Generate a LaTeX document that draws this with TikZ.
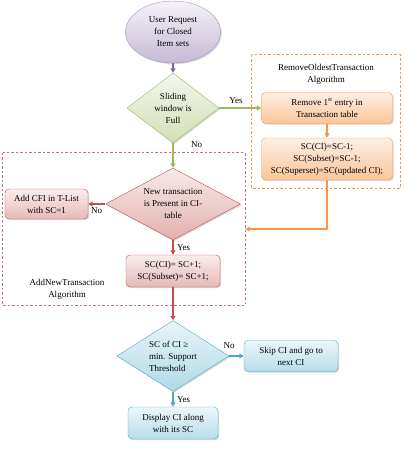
\documentclass[tikz,border=0pt]{standalone}
\usepackage{fontspec}
\setmainfont{Liberation Serif}
\usetikzlibrary{shapes.geometric,arrows.meta,shadows}

\definecolor{purpline}{HTML}{8064A2}
\definecolor{grnline}{HTML}{9BBB59}
\definecolor{orgline}{HTML}{F79646}
\definecolor{redline}{HTML}{C0504D}
\definecolor{bluline}{HTML}{4BACC6}
\definecolor{grpred}{HTML}{D9668A}

\begin{document}
\begin{tikzpicture}[x=1pt, y=-1pt, font=\fontsize{9}{12}\selectfont, line join=round,
	shd/.style={drop shadow={opacity=.3, shadow xshift=1.2pt, shadow yshift=-1.2pt}},
	box/.style={rectangle, rounded corners=4pt, draw, align=center, inner sep=1pt, shd},
	dec/.style={diamond, draw, align=center, inner sep=0pt, shd},
	conn/.style={line width=1.4pt, -{Triangle[length=4.5pt,width=5pt]}},
	lbl/.style={text=black},
	grp/.style={dash pattern=on 2.5pt off 2pt, line width=.8pt}]
	\useasboundingbox (0,0) rectangle (404,450);
	% dashed groups
	\node[minimum width=148pt, minimum height=133pt] (rmalg) at (326,121.5) {};
	\node[minimum width=242pt, minimum height=152pt] (addalg) at (124,229) {};
	\draw[grp, orgline] (rmalg.north west) rectangle (rmalg.south east);
	\draw[grp, grpred] (addalg.north west) rectangle (addalg.south east);
	\node[align=center] (rmlbl) at (326,74) {RemoveOldestTransaction\\Algorithm};
	\node[align=center] (addlbl) at (67,289) {AddNewTransaction\\Algorithm};
	% flow
	\node[ellipse, draw=purpline!70, top color=purpline!8, bottom color=purpline!45, align=center, minimum width=95pt, minimum height=62pt, inner sep=0pt, shd] (req) at (173,32) {User Request\\for Closed\\Item sets};
	\node[dec, draw=grnline, top color=grnline!12, bottom color=grnline!45, aspect=1.3, minimum width=92pt, minimum height=70pt] (win) at (173,108) {Sliding\\window is\\Full};
	\node[box, draw=orgline, top color=orgline!15, bottom color=orgline!55, minimum width=131pt, minimum height=31pt] (rm1) at (327,108) {Remove 1\textsuperscript{st} entry in\\Transaction table};
	\node[box, draw=orgline, top color=orgline!15, bottom color=orgline!55, minimum width=131pt, minimum height=42pt] (rm2) at (327,159) {SC(CI)=SC-1;\\SC(Subset)=SC-1;\\SC(Superset)=SC(updated CI);};
	\node[dec, draw=redline, top color=redline!12, bottom color=redline!45, aspect=1.85, minimum width=135pt, minimum height=72pt] (new) at (173,204) {New transaction\\is Present in CI-\\table};
	\node[box, draw=redline, top color=redline!10, bottom color=redline!40, minimum width=83pt, minimum height=30pt] (add) at (46.5,204) {Add CFI in T-List\\with SC=1};
	\node[box, draw=redline, top color=redline!10, bottom color=redline!40, minimum width=94pt, minimum height=32pt] (inc) at (173,271) {SC(CI)= SC+1;\\SC(Subset)= SC+1;};
	\node[dec, draw=bluline, top color=bluline!12, bottom color=bluline!45, aspect=1.58, minimum width=112pt, minimum height=71pt, align=left] (thr) at (173,356) {SC of CI ≥\\min. Support\\Threshold};
	\node[box, draw=bluline, top color=bluline!10, bottom color=bluline!40, minimum width=94pt, minimum height=31pt] (skip) at (291,356) {Skip CI and go to\\next CI};
	\node[box, draw=bluline, top color=bluline!10, bottom color=bluline!40, minimum width=90pt, minimum height=32pt] (disp) at (173,423) {Display CI along\\with its SC};
	% connectors
	\draw[conn, purpline] (req) -- (win);
	\draw[conn, grnline] (win) -- node[lbl, above, pos=.4]{Yes} (rm1);
	\draw[conn, grnline] (win) -- node[lbl, right=14pt, pos=.05]{No} (new);
	\draw[conn, orgline] (rm1) -- (rm2);
	\draw[conn, orgline] (rm2) |- (addalg.east);
	\draw[conn, redline] (new) -- node[lbl, below]{No} (add);
	\draw[conn, redline] (new) -- node[lbl, right]{Yes} (inc);
	\draw[conn, redline] (inc) -- (thr);
	\draw[conn, bluline] (thr) -- node[lbl, above=3pt, pos=0]{No} (skip);
	\draw[conn, bluline] (thr) -- node[lbl, right]{Yes} (disp);
\end{tikzpicture}
\end{document}
